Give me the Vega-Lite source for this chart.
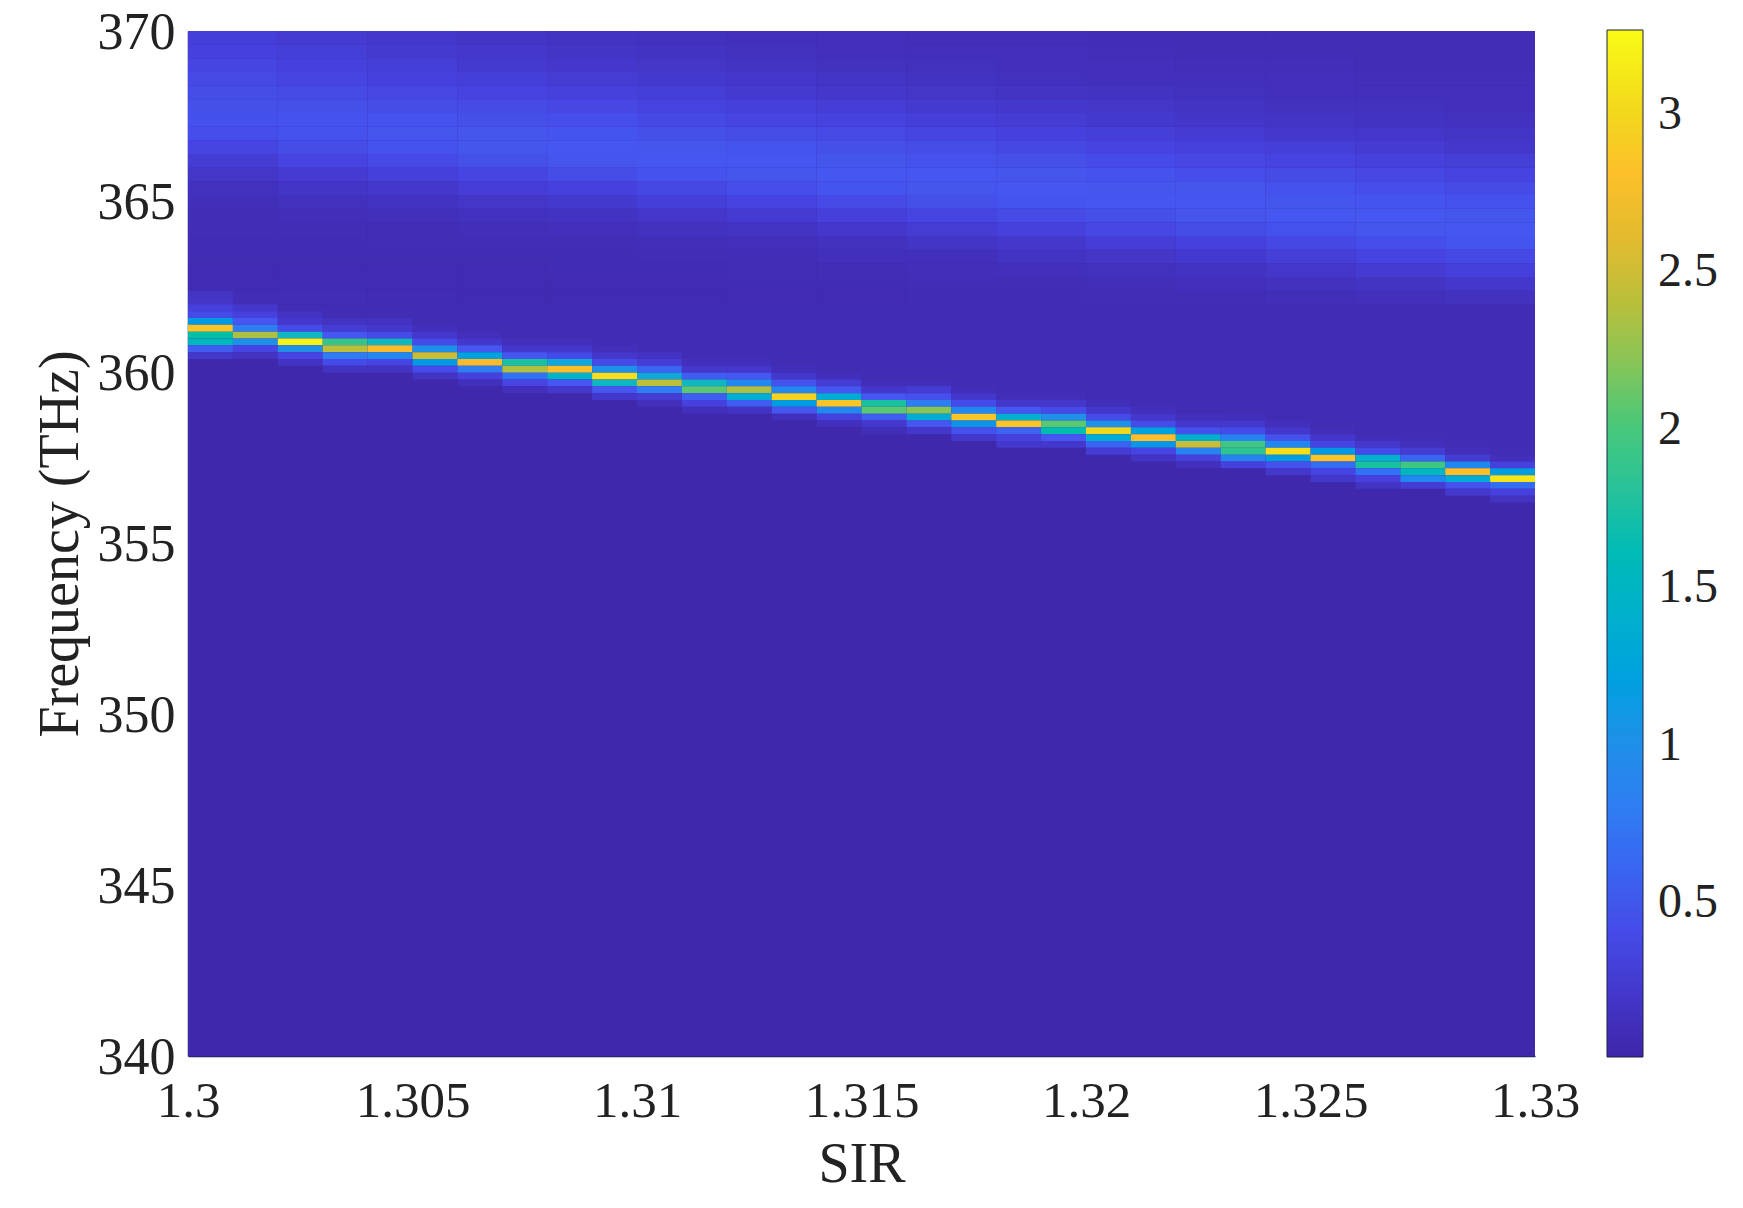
{
"$schema":"https://vega.github.io/schema/vega-lite/v6.json",
"autosize":"none",
"padding":{"left":188,"top":31,"right":208,"bottom":152},
"width":1347,
"height":1025,
"background":"white",
"config":{"view":{"stroke":null}},
"data":{"values":[
{"x":1.3,"x2":1.33,"y":370,"y2":340,"v":0.02},
{"x":1.3,"x2":1.302,"y":370,"y2":369.6,"v":0.28},{"x":1.3,"x2":1.302,"y":369.6,"y2":369.2,"v":0.31},{"x":1.3,"x2":1.302,"y":369.2,"y2":368.8,"v":0.34},{"x":1.3,"x2":1.302,"y":368.8,"y2":368.4,"v":0.38},{"x":1.3,"x2":1.302,"y":368.4,"y2":368,"v":0.41},{"x":1.3,"x2":1.302,"y":368,"y2":367.6,"v":0.44},{"x":1.3,"x2":1.302,"y":367.6,"y2":367.2,"v":0.45},{"x":1.3,"x2":1.302,"y":367.2,"y2":366.8,"v":0.42},{"x":1.3,"x2":1.302,"y":366.8,"y2":366.4,"v":0.34},{"x":1.3,"x2":1.302,"y":366.4,"y2":366,"v":0.25},{"x":1.3,"x2":1.302,"y":366,"y2":365.6,"v":0.18},{"x":1.3,"x2":1.302,"y":365.6,"y2":365.2,"v":0.13},{"x":1.3,"x2":1.302,"y":365.2,"y2":364.8,"v":0.1},{"x":1.3,"x2":1.302,"y":364.8,"y2":364.4,"v":0.09},{"x":1.3,"x2":1.302,"y":364.4,"y2":364,"v":0.08},{"x":1.3,"x2":1.302,"y":364,"y2":363.6,"v":0.07},{"x":1.3,"x2":1.302,"y":363.6,"y2":363.2,"v":0.07},{"x":1.3,"x2":1.302,"y":363.2,"y2":362.8,"v":0.06},{"x":1.3,"x2":1.302,"y":362.8,"y2":362.4,"v":0.06},{"x":1.3,"x2":1.302,"y":362.4,"y2":362,"v":0.08},
{"x":1.302,"x2":1.304,"y":370,"y2":369.6,"v":0.24},{"x":1.302,"x2":1.304,"y":369.6,"y2":369.2,"v":0.27},{"x":1.302,"x2":1.304,"y":369.2,"y2":368.8,"v":0.31},{"x":1.302,"x2":1.304,"y":368.8,"y2":368.4,"v":0.35},{"x":1.302,"x2":1.304,"y":368.4,"y2":368,"v":0.39},{"x":1.302,"x2":1.304,"y":368,"y2":367.6,"v":0.43},{"x":1.302,"x2":1.304,"y":367.6,"y2":367.2,"v":0.46},{"x":1.302,"x2":1.304,"y":367.2,"y2":366.8,"v":0.46},{"x":1.302,"x2":1.304,"y":366.8,"y2":366.4,"v":0.41},{"x":1.302,"x2":1.304,"y":366.4,"y2":366,"v":0.33},{"x":1.302,"x2":1.304,"y":366,"y2":365.6,"v":0.24},{"x":1.302,"x2":1.304,"y":365.6,"y2":365.2,"v":0.17},{"x":1.302,"x2":1.304,"y":365.2,"y2":364.8,"v":0.13},{"x":1.302,"x2":1.304,"y":364.8,"y2":364.4,"v":0.1},{"x":1.302,"x2":1.304,"y":364.4,"y2":364,"v":0.08},{"x":1.302,"x2":1.304,"y":364,"y2":363.6,"v":0.07},{"x":1.302,"x2":1.304,"y":363.6,"y2":363.2,"v":0.07},{"x":1.302,"x2":1.304,"y":363.2,"y2":362.8,"v":0.06},{"x":1.302,"x2":1.304,"y":362.8,"y2":362.4,"v":0.07},{"x":1.302,"x2":1.304,"y":362.4,"y2":362,"v":0.08},
{"x":1.304,"x2":1.306,"y":370,"y2":369.6,"v":0.2},{"x":1.304,"x2":1.306,"y":369.6,"y2":369.2,"v":0.23},{"x":1.304,"x2":1.306,"y":369.2,"y2":368.8,"v":0.27},{"x":1.304,"x2":1.306,"y":368.8,"y2":368.4,"v":0.31},{"x":1.304,"x2":1.306,"y":368.4,"y2":368,"v":0.36},{"x":1.304,"x2":1.306,"y":368,"y2":367.6,"v":0.41},{"x":1.304,"x2":1.306,"y":367.6,"y2":367.2,"v":0.46},{"x":1.304,"x2":1.306,"y":367.2,"y2":366.8,"v":0.48},{"x":1.304,"x2":1.306,"y":366.8,"y2":366.4,"v":0.46},{"x":1.304,"x2":1.306,"y":366.4,"y2":366,"v":0.38},{"x":1.304,"x2":1.306,"y":366,"y2":365.6,"v":0.29},{"x":1.304,"x2":1.306,"y":365.6,"y2":365.2,"v":0.2},{"x":1.304,"x2":1.306,"y":365.2,"y2":364.8,"v":0.15},{"x":1.304,"x2":1.306,"y":364.8,"y2":364.4,"v":0.11},{"x":1.304,"x2":1.306,"y":364.4,"y2":364,"v":0.09},{"x":1.304,"x2":1.306,"y":364,"y2":363.6,"v":0.08},{"x":1.304,"x2":1.306,"y":363.6,"y2":363.2,"v":0.07},{"x":1.304,"x2":1.306,"y":363.2,"y2":362.8,"v":0.06},{"x":1.304,"x2":1.306,"y":362.8,"y2":362.4,"v":0.06},{"x":1.304,"x2":1.306,"y":362.4,"y2":362,"v":0.07},
{"x":1.306,"x2":1.308,"y":370,"y2":369.6,"v":0.17},{"x":1.306,"x2":1.308,"y":369.6,"y2":369.2,"v":0.2},{"x":1.306,"x2":1.308,"y":369.2,"y2":368.8,"v":0.23},{"x":1.306,"x2":1.308,"y":368.8,"y2":368.4,"v":0.28},{"x":1.306,"x2":1.308,"y":368.4,"y2":368,"v":0.33},{"x":1.306,"x2":1.308,"y":368,"y2":367.6,"v":0.39},{"x":1.306,"x2":1.308,"y":367.6,"y2":367.2,"v":0.44},{"x":1.306,"x2":1.308,"y":367.2,"y2":366.8,"v":0.48},{"x":1.306,"x2":1.308,"y":366.8,"y2":366.4,"v":0.49},{"x":1.306,"x2":1.308,"y":366.4,"y2":366,"v":0.44},{"x":1.306,"x2":1.308,"y":366,"y2":365.6,"v":0.35},{"x":1.306,"x2":1.308,"y":365.6,"y2":365.2,"v":0.26},{"x":1.306,"x2":1.308,"y":365.2,"y2":364.8,"v":0.18},{"x":1.306,"x2":1.308,"y":364.8,"y2":364.4,"v":0.13},{"x":1.306,"x2":1.308,"y":364.4,"y2":364,"v":0.1},{"x":1.306,"x2":1.308,"y":364,"y2":363.6,"v":0.08},{"x":1.306,"x2":1.308,"y":363.6,"y2":363.2,"v":0.07},{"x":1.306,"x2":1.308,"y":363.2,"y2":362.8,"v":0.06},{"x":1.306,"x2":1.308,"y":362.8,"y2":362.4,"v":0.06},{"x":1.306,"x2":1.308,"y":362.4,"y2":362,"v":0.06},
{"x":1.308,"x2":1.31,"y":370,"y2":369.6,"v":0.15},{"x":1.308,"x2":1.31,"y":369.6,"y2":369.2,"v":0.17},{"x":1.308,"x2":1.31,"y":369.2,"y2":368.8,"v":0.2},{"x":1.308,"x2":1.31,"y":368.8,"y2":368.4,"v":0.25},{"x":1.308,"x2":1.31,"y":368.4,"y2":368,"v":0.3},{"x":1.308,"x2":1.31,"y":368,"y2":367.6,"v":0.36},{"x":1.308,"x2":1.31,"y":367.6,"y2":367.2,"v":0.42},{"x":1.308,"x2":1.31,"y":367.2,"y2":366.8,"v":0.47},{"x":1.308,"x2":1.31,"y":366.8,"y2":366.4,"v":0.5},{"x":1.308,"x2":1.31,"y":366.4,"y2":366,"v":0.48},{"x":1.308,"x2":1.31,"y":366,"y2":365.6,"v":0.41},{"x":1.308,"x2":1.31,"y":365.6,"y2":365.2,"v":0.31},{"x":1.308,"x2":1.31,"y":365.2,"y2":364.8,"v":0.22},{"x":1.308,"x2":1.31,"y":364.8,"y2":364.4,"v":0.15},{"x":1.308,"x2":1.31,"y":364.4,"y2":364,"v":0.11},{"x":1.308,"x2":1.31,"y":364,"y2":363.6,"v":0.09},{"x":1.308,"x2":1.31,"y":363.6,"y2":363.2,"v":0.07},{"x":1.308,"x2":1.31,"y":363.2,"y2":362.8,"v":0.07},{"x":1.308,"x2":1.31,"y":362.8,"y2":362.4,"v":0.06},{"x":1.308,"x2":1.31,"y":362.4,"y2":362,"v":0.06},
{"x":1.31,"x2":1.312,"y":370,"y2":369.6,"v":0.13},{"x":1.31,"x2":1.312,"y":369.6,"y2":369.2,"v":0.15},{"x":1.31,"x2":1.312,"y":369.2,"y2":368.8,"v":0.18},{"x":1.31,"x2":1.312,"y":368.8,"y2":368.4,"v":0.22},{"x":1.31,"x2":1.312,"y":368.4,"y2":368,"v":0.27},{"x":1.31,"x2":1.312,"y":368,"y2":367.6,"v":0.32},{"x":1.31,"x2":1.312,"y":367.6,"y2":367.2,"v":0.38},{"x":1.31,"x2":1.312,"y":367.2,"y2":366.8,"v":0.44},{"x":1.31,"x2":1.312,"y":366.8,"y2":366.4,"v":0.49},{"x":1.31,"x2":1.312,"y":366.4,"y2":366,"v":0.5},{"x":1.31,"x2":1.312,"y":366,"y2":365.6,"v":0.46},{"x":1.31,"x2":1.312,"y":365.6,"y2":365.2,"v":0.37},{"x":1.31,"x2":1.312,"y":365.2,"y2":364.8,"v":0.27},{"x":1.31,"x2":1.312,"y":364.8,"y2":364.4,"v":0.19},{"x":1.31,"x2":1.312,"y":364.4,"y2":364,"v":0.14},{"x":1.31,"x2":1.312,"y":364,"y2":363.6,"v":0.1},{"x":1.31,"x2":1.312,"y":363.6,"y2":363.2,"v":0.08},{"x":1.31,"x2":1.312,"y":363.2,"y2":362.8,"v":0.07},{"x":1.31,"x2":1.312,"y":362.8,"y2":362.4,"v":0.06},{"x":1.31,"x2":1.312,"y":362.4,"y2":362,"v":0.06},
{"x":1.312,"x2":1.314,"y":370,"y2":369.6,"v":0.12},{"x":1.312,"x2":1.314,"y":369.6,"y2":369.2,"v":0.14},{"x":1.312,"x2":1.314,"y":369.2,"y2":368.8,"v":0.16},{"x":1.312,"x2":1.314,"y":368.8,"y2":368.4,"v":0.19},{"x":1.312,"x2":1.314,"y":368.4,"y2":368,"v":0.23},{"x":1.312,"x2":1.314,"y":368,"y2":367.6,"v":0.29},{"x":1.312,"x2":1.314,"y":367.6,"y2":367.2,"v":0.35},{"x":1.312,"x2":1.314,"y":367.2,"y2":366.8,"v":0.41},{"x":1.312,"x2":1.314,"y":366.8,"y2":366.4,"v":0.47},{"x":1.312,"x2":1.314,"y":366.4,"y2":366,"v":0.5},{"x":1.312,"x2":1.314,"y":366,"y2":365.6,"v":0.49},{"x":1.312,"x2":1.314,"y":365.6,"y2":365.2,"v":0.42},{"x":1.312,"x2":1.314,"y":365.2,"y2":364.8,"v":0.33},{"x":1.312,"x2":1.314,"y":364.8,"y2":364.4,"v":0.24},{"x":1.312,"x2":1.314,"y":364.4,"y2":364,"v":0.16},{"x":1.312,"x2":1.314,"y":364,"y2":363.6,"v":0.12},{"x":1.312,"x2":1.314,"y":363.6,"y2":363.2,"v":0.09},{"x":1.312,"x2":1.314,"y":363.2,"y2":362.8,"v":0.08},{"x":1.312,"x2":1.314,"y":362.8,"y2":362.4,"v":0.07},{"x":1.312,"x2":1.314,"y":362.4,"y2":362,"v":0.06},
{"x":1.314,"x2":1.316,"y":370,"y2":369.6,"v":0.11},{"x":1.314,"x2":1.316,"y":369.6,"y2":369.2,"v":0.12},{"x":1.314,"x2":1.316,"y":369.2,"y2":368.8,"v":0.14},{"x":1.314,"x2":1.316,"y":368.8,"y2":368.4,"v":0.17},{"x":1.314,"x2":1.316,"y":368.4,"y2":368,"v":0.21},{"x":1.314,"x2":1.316,"y":368,"y2":367.6,"v":0.26},{"x":1.314,"x2":1.316,"y":367.6,"y2":367.2,"v":0.32},{"x":1.314,"x2":1.316,"y":367.2,"y2":366.8,"v":0.38},{"x":1.314,"x2":1.316,"y":366.8,"y2":366.4,"v":0.44},{"x":1.314,"x2":1.316,"y":366.4,"y2":366,"v":0.49},{"x":1.314,"x2":1.316,"y":366,"y2":365.6,"v":0.5},{"x":1.314,"x2":1.316,"y":365.6,"y2":365.2,"v":0.47},{"x":1.314,"x2":1.316,"y":365.2,"y2":364.8,"v":0.38},{"x":1.314,"x2":1.316,"y":364.8,"y2":364.4,"v":0.29},{"x":1.314,"x2":1.316,"y":364.4,"y2":364,"v":0.2},{"x":1.314,"x2":1.316,"y":364,"y2":363.6,"v":0.14},{"x":1.314,"x2":1.316,"y":363.6,"y2":363.2,"v":0.11},{"x":1.314,"x2":1.316,"y":363.2,"y2":362.8,"v":0.09},{"x":1.314,"x2":1.316,"y":362.8,"y2":362.4,"v":0.07},{"x":1.314,"x2":1.316,"y":362.4,"y2":362,"v":0.06},
{"x":1.316,"x2":1.318,"y":370,"y2":369.6,"v":0.1},{"x":1.316,"x2":1.318,"y":369.6,"y2":369.2,"v":0.11},{"x":1.316,"x2":1.318,"y":369.2,"y2":368.8,"v":0.13},{"x":1.316,"x2":1.318,"y":368.8,"y2":368.4,"v":0.15},{"x":1.316,"x2":1.318,"y":368.4,"y2":368,"v":0.18},{"x":1.316,"x2":1.318,"y":368,"y2":367.6,"v":0.23},{"x":1.316,"x2":1.318,"y":367.6,"y2":367.2,"v":0.28},{"x":1.316,"x2":1.318,"y":367.2,"y2":366.8,"v":0.34},{"x":1.316,"x2":1.318,"y":366.8,"y2":366.4,"v":0.41},{"x":1.316,"x2":1.318,"y":366.4,"y2":366,"v":0.46},{"x":1.316,"x2":1.318,"y":366,"y2":365.6,"v":0.5},{"x":1.316,"x2":1.318,"y":365.6,"y2":365.2,"v":0.49},{"x":1.316,"x2":1.318,"y":365.2,"y2":364.8,"v":0.43},{"x":1.316,"x2":1.318,"y":364.8,"y2":364.4,"v":0.34},{"x":1.316,"x2":1.318,"y":364.4,"y2":364,"v":0.25},{"x":1.316,"x2":1.318,"y":364,"y2":363.6,"v":0.17},{"x":1.316,"x2":1.318,"y":363.6,"y2":363.2,"v":0.12},{"x":1.316,"x2":1.318,"y":363.2,"y2":362.8,"v":0.1},{"x":1.316,"x2":1.318,"y":362.8,"y2":362.4,"v":0.08},{"x":1.316,"x2":1.318,"y":362.4,"y2":362,"v":0.07},
{"x":1.318,"x2":1.32,"y":370,"y2":369.6,"v":0.1},{"x":1.318,"x2":1.32,"y":369.6,"y2":369.2,"v":0.11},{"x":1.318,"x2":1.32,"y":369.2,"y2":368.8,"v":0.12},{"x":1.318,"x2":1.32,"y":368.8,"y2":368.4,"v":0.13},{"x":1.318,"x2":1.32,"y":368.4,"y2":368,"v":0.16},{"x":1.318,"x2":1.32,"y":368,"y2":367.6,"v":0.2},{"x":1.318,"x2":1.32,"y":367.6,"y2":367.2,"v":0.25},{"x":1.318,"x2":1.32,"y":367.2,"y2":366.8,"v":0.31},{"x":1.318,"x2":1.32,"y":366.8,"y2":366.4,"v":0.37},{"x":1.318,"x2":1.32,"y":366.4,"y2":366,"v":0.43},{"x":1.318,"x2":1.32,"y":366,"y2":365.6,"v":0.48},{"x":1.318,"x2":1.32,"y":365.6,"y2":365.2,"v":0.5},{"x":1.318,"x2":1.32,"y":365.2,"y2":364.8,"v":0.47},{"x":1.318,"x2":1.32,"y":364.8,"y2":364.4,"v":0.39},{"x":1.318,"x2":1.32,"y":364.4,"y2":364,"v":0.3},{"x":1.318,"x2":1.32,"y":364,"y2":363.6,"v":0.21},{"x":1.318,"x2":1.32,"y":363.6,"y2":363.2,"v":0.15},{"x":1.318,"x2":1.32,"y":363.2,"y2":362.8,"v":0.11},{"x":1.318,"x2":1.32,"y":362.8,"y2":362.4,"v":0.09},{"x":1.318,"x2":1.32,"y":362.4,"y2":362,"v":0.07},
{"x":1.32,"x2":1.322,"y":370,"y2":369.6,"v":0.09},{"x":1.32,"x2":1.322,"y":369.6,"y2":369.2,"v":0.1},{"x":1.32,"x2":1.322,"y":369.2,"y2":368.8,"v":0.11},{"x":1.32,"x2":1.322,"y":368.8,"y2":368.4,"v":0.12},{"x":1.32,"x2":1.322,"y":368.4,"y2":368,"v":0.15},{"x":1.32,"x2":1.322,"y":368,"y2":367.6,"v":0.18},{"x":1.32,"x2":1.322,"y":367.6,"y2":367.2,"v":0.22},{"x":1.32,"x2":1.322,"y":367.2,"y2":366.8,"v":0.27},{"x":1.32,"x2":1.322,"y":366.8,"y2":366.4,"v":0.33},{"x":1.32,"x2":1.322,"y":366.4,"y2":366,"v":0.4},{"x":1.32,"x2":1.322,"y":366,"y2":365.6,"v":0.46},{"x":1.32,"x2":1.322,"y":365.6,"y2":365.2,"v":0.49},{"x":1.32,"x2":1.322,"y":365.2,"y2":364.8,"v":0.5},{"x":1.32,"x2":1.322,"y":364.8,"y2":364.4,"v":0.44},{"x":1.32,"x2":1.322,"y":364.4,"y2":364,"v":0.36},{"x":1.32,"x2":1.322,"y":364,"y2":363.6,"v":0.26},{"x":1.32,"x2":1.322,"y":363.6,"y2":363.2,"v":0.18},{"x":1.32,"x2":1.322,"y":363.2,"y2":362.8,"v":0.13},{"x":1.32,"x2":1.322,"y":362.8,"y2":362.4,"v":0.1},{"x":1.32,"x2":1.322,"y":362.4,"y2":362,"v":0.08},
{"x":1.322,"x2":1.324,"y":370,"y2":369.6,"v":0.09},{"x":1.322,"x2":1.324,"y":369.6,"y2":369.2,"v":0.09},{"x":1.322,"x2":1.324,"y":369.2,"y2":368.8,"v":0.1},{"x":1.322,"x2":1.324,"y":368.8,"y2":368.4,"v":0.12},{"x":1.322,"x2":1.324,"y":368.4,"y2":368,"v":0.13},{"x":1.322,"x2":1.324,"y":368,"y2":367.6,"v":0.16},{"x":1.322,"x2":1.324,"y":367.6,"y2":367.2,"v":0.19},{"x":1.322,"x2":1.324,"y":367.2,"y2":366.8,"v":0.24},{"x":1.322,"x2":1.324,"y":366.8,"y2":366.4,"v":0.3},{"x":1.322,"x2":1.324,"y":366.4,"y2":366,"v":0.36},{"x":1.322,"x2":1.324,"y":366,"y2":365.6,"v":0.42},{"x":1.322,"x2":1.324,"y":365.6,"y2":365.2,"v":0.48},{"x":1.322,"x2":1.324,"y":365.2,"y2":364.8,"v":0.5},{"x":1.322,"x2":1.324,"y":364.8,"y2":364.4,"v":0.48},{"x":1.322,"x2":1.324,"y":364.4,"y2":364,"v":0.41},{"x":1.322,"x2":1.324,"y":364,"y2":363.6,"v":0.31},{"x":1.322,"x2":1.324,"y":363.6,"y2":363.2,"v":0.22},{"x":1.322,"x2":1.324,"y":363.2,"y2":362.8,"v":0.15},{"x":1.322,"x2":1.324,"y":362.8,"y2":362.4,"v":0.11},{"x":1.322,"x2":1.324,"y":362.4,"y2":362,"v":0.09},
{"x":1.324,"x2":1.326,"y":370,"y2":369.6,"v":0.08},{"x":1.324,"x2":1.326,"y":369.6,"y2":369.2,"v":0.09},{"x":1.324,"x2":1.326,"y":369.2,"y2":368.8,"v":0.1},{"x":1.324,"x2":1.326,"y":368.8,"y2":368.4,"v":0.11},{"x":1.324,"x2":1.326,"y":368.4,"y2":368,"v":0.12},{"x":1.324,"x2":1.326,"y":368,"y2":367.6,"v":0.14},{"x":1.324,"x2":1.326,"y":367.6,"y2":367.2,"v":0.17},{"x":1.324,"x2":1.326,"y":367.2,"y2":366.8,"v":0.21},{"x":1.324,"x2":1.326,"y":366.8,"y2":366.4,"v":0.27},{"x":1.324,"x2":1.326,"y":366.4,"y2":366,"v":0.33},{"x":1.324,"x2":1.326,"y":366,"y2":365.6,"v":0.39},{"x":1.324,"x2":1.326,"y":365.6,"y2":365.2,"v":0.45},{"x":1.324,"x2":1.326,"y":365.2,"y2":364.8,"v":0.49},{"x":1.324,"x2":1.326,"y":364.8,"y2":364.4,"v":0.5},{"x":1.324,"x2":1.326,"y":364.4,"y2":364,"v":0.45},{"x":1.324,"x2":1.326,"y":364,"y2":363.6,"v":0.37},{"x":1.324,"x2":1.326,"y":363.6,"y2":363.2,"v":0.27},{"x":1.324,"x2":1.326,"y":363.2,"y2":362.8,"v":0.19},{"x":1.324,"x2":1.326,"y":362.8,"y2":362.4,"v":0.14},{"x":1.324,"x2":1.326,"y":362.4,"y2":362,"v":0.1},
{"x":1.326,"x2":1.328,"y":370,"y2":369.6,"v":0.08},{"x":1.326,"x2":1.328,"y":369.6,"y2":369.2,"v":0.09},{"x":1.326,"x2":1.328,"y":369.2,"y2":368.8,"v":0.09},{"x":1.326,"x2":1.328,"y":368.8,"y2":368.4,"v":0.1},{"x":1.326,"x2":1.328,"y":368.4,"y2":368,"v":0.11},{"x":1.326,"x2":1.328,"y":368,"y2":367.6,"v":0.13},{"x":1.326,"x2":1.328,"y":367.6,"y2":367.2,"v":0.15},{"x":1.326,"x2":1.328,"y":367.2,"y2":366.8,"v":0.19},{"x":1.326,"x2":1.328,"y":366.8,"y2":366.4,"v":0.24},{"x":1.326,"x2":1.328,"y":366.4,"y2":366,"v":0.3},{"x":1.326,"x2":1.328,"y":366,"y2":365.6,"v":0.36},{"x":1.326,"x2":1.328,"y":365.6,"y2":365.2,"v":0.42},{"x":1.326,"x2":1.328,"y":365.2,"y2":364.8,"v":0.47},{"x":1.326,"x2":1.328,"y":364.8,"y2":364.4,"v":0.5},{"x":1.326,"x2":1.328,"y":364.4,"y2":364,"v":0.49},{"x":1.326,"x2":1.328,"y":364,"y2":363.6,"v":0.42},{"x":1.326,"x2":1.328,"y":363.6,"y2":363.2,"v":0.33},{"x":1.326,"x2":1.328,"y":363.2,"y2":362.8,"v":0.24},{"x":1.326,"x2":1.328,"y":362.8,"y2":362.4,"v":0.16},{"x":1.326,"x2":1.328,"y":362.4,"y2":362,"v":0.12},
{"x":1.328,"x2":1.33,"y":370,"y2":369.6,"v":0.08},{"x":1.328,"x2":1.33,"y":369.6,"y2":369.2,"v":0.08},{"x":1.328,"x2":1.33,"y":369.2,"y2":368.8,"v":0.09},{"x":1.328,"x2":1.33,"y":368.8,"y2":368.4,"v":0.1},{"x":1.328,"x2":1.33,"y":368.4,"y2":368,"v":0.11},{"x":1.328,"x2":1.33,"y":368,"y2":367.6,"v":0.12},{"x":1.328,"x2":1.33,"y":367.6,"y2":367.2,"v":0.14},{"x":1.328,"x2":1.33,"y":367.2,"y2":366.8,"v":0.17},{"x":1.328,"x2":1.33,"y":366.8,"y2":366.4,"v":0.21},{"x":1.328,"x2":1.33,"y":366.4,"y2":366,"v":0.27},{"x":1.328,"x2":1.33,"y":366,"y2":365.6,"v":0.33},{"x":1.328,"x2":1.33,"y":365.6,"y2":365.2,"v":0.39},{"x":1.328,"x2":1.33,"y":365.2,"y2":364.8,"v":0.45},{"x":1.328,"x2":1.33,"y":364.8,"y2":364.4,"v":0.49},{"x":1.328,"x2":1.33,"y":364.4,"y2":364,"v":0.5},{"x":1.328,"x2":1.33,"y":364,"y2":363.6,"v":0.47},{"x":1.328,"x2":1.33,"y":363.6,"y2":363.2,"v":0.38},{"x":1.328,"x2":1.33,"y":363.2,"y2":362.8,"v":0.29},{"x":1.328,"x2":1.33,"y":362.8,"y2":362.4,"v":0.2},{"x":1.328,"x2":1.33,"y":362.4,"y2":362,"v":0.14},
{"x":1.3,"x2":1.302,"y":362,"y2":361.4,"v":0.08},{"x":1.302,"x2":1.304,"y":362,"y2":361,"v":0.07},{"x":1.304,"x2":1.306,"y":362,"y2":360.6,"v":0.07},{"x":1.306,"x2":1.308,"y":362,"y2":360.2,"v":0.07},{"x":1.308,"x2":1.31,"y":362,"y2":359.8,"v":0.07},{"x":1.31,"x2":1.312,"y":362,"y2":359.4,"v":0.07},{"x":1.312,"x2":1.314,"y":362,"y2":359,"v":0.07},{"x":1.314,"x2":1.316,"y":362,"y2":358.8,"v":0.07},{"x":1.316,"x2":1.318,"y":362,"y2":358.4,"v":0.07},{"x":1.318,"x2":1.32,"y":362,"y2":358,"v":0.07},{"x":1.32,"x2":1.322,"y":362,"y2":357.8,"v":0.07},{"x":1.322,"x2":1.324,"y":362,"y2":357.4,"v":0.07},{"x":1.324,"x2":1.326,"y":362,"y2":357.2,"v":0.07},{"x":1.326,"x2":1.328,"y":362,"y2":357,"v":0.07},{"x":1.328,"x2":1.33,"y":362,"y2":356.8,"v":0.07},
{"x":1.3,"x2":1.301,"y":362.4,"y2":362.2,"v":0.16},{"x":1.3,"x2":1.301,"y":362.2,"y2":362,"v":0.18},{"x":1.3,"x2":1.301,"y":362,"y2":361.8,"v":0.3},{"x":1.3,"x2":1.301,"y":361.8,"y2":361.6,"v":0.4},{"x":1.3,"x2":1.301,"y":361.6,"y2":361.4,"v":1.1},{"x":1.3,"x2":1.301,"y":361.4,"y2":361.2,"v":2.85},{"x":1.3,"x2":1.301,"y":361.2,"y2":361,"v":1.7},{"x":1.3,"x2":1.301,"y":361,"y2":360.8,"v":1.55},{"x":1.3,"x2":1.301,"y":360.8,"y2":360.6,"v":0.55},{"x":1.3,"x2":1.301,"y":360.6,"y2":360.4,"v":0.2},
{"x":1.301,"x2":1.302,"y":362,"y2":361.8,"v":0.2},{"x":1.301,"x2":1.302,"y":361.8,"y2":361.6,"v":0.3},{"x":1.301,"x2":1.302,"y":361.6,"y2":361.4,"v":0.5},{"x":1.301,"x2":1.302,"y":361.4,"y2":361.2,"v":0.8},{"x":1.301,"x2":1.302,"y":361.2,"y2":361,"v":2.35},{"x":1.301,"x2":1.302,"y":361,"y2":360.8,"v":1},{"x":1.301,"x2":1.302,"y":360.8,"y2":360.6,"v":0.35},{"x":1.301,"x2":1.302,"y":360.6,"y2":360.4,"v":0.15},
{"x":1.302,"x2":1.303,"y":361.8,"y2":361.6,"v":0.15},{"x":1.302,"x2":1.303,"y":361.6,"y2":361.4,"v":0.2},{"x":1.302,"x2":1.303,"y":361.4,"y2":361.2,"v":0.4},{"x":1.302,"x2":1.303,"y":361.2,"y2":361,"v":1.5},{"x":1.302,"x2":1.303,"y":361,"y2":360.8,"v":3.2},{"x":1.302,"x2":1.303,"y":360.8,"y2":360.6,"v":1},{"x":1.302,"x2":1.303,"y":360.6,"y2":360.4,"v":0.35},{"x":1.302,"x2":1.303,"y":360.4,"y2":360.2,"v":0.15},
{"x":1.303,"x2":1.304,"y":361.6,"y2":361.4,"v":0.15},{"x":1.303,"x2":1.304,"y":361.4,"y2":361.2,"v":0.25},{"x":1.303,"x2":1.304,"y":361.2,"y2":361,"v":0.5},{"x":1.303,"x2":1.304,"y":361,"y2":360.8,"v":1.9},{"x":1.303,"x2":1.304,"y":360.8,"y2":360.6,"v":2.4},{"x":1.303,"x2":1.304,"y":360.6,"y2":360.4,"v":0.8},{"x":1.303,"x2":1.304,"y":360.4,"y2":360.2,"v":0.4},{"x":1.303,"x2":1.304,"y":360.2,"y2":360,"v":0.15},
{"x":1.304,"x2":1.305,"y":361.6,"y2":361.4,"v":0.15},{"x":1.304,"x2":1.305,"y":361.4,"y2":361.2,"v":0.2},{"x":1.304,"x2":1.305,"y":361.2,"y2":361,"v":0.4},{"x":1.304,"x2":1.305,"y":361,"y2":360.8,"v":1.5},{"x":1.304,"x2":1.305,"y":360.8,"y2":360.6,"v":2.75},{"x":1.304,"x2":1.305,"y":360.6,"y2":360.4,"v":0.9},{"x":1.304,"x2":1.305,"y":360.4,"y2":360.2,"v":0.35},{"x":1.304,"x2":1.305,"y":360.2,"y2":360,"v":0.15},
{"x":1.305,"x2":1.306,"y":361.4,"y2":361.2,"v":0.12},{"x":1.305,"x2":1.306,"y":361.2,"y2":361,"v":0.2},{"x":1.305,"x2":1.306,"y":361,"y2":360.8,"v":0.4},{"x":1.305,"x2":1.306,"y":360.8,"y2":360.6,"v":1},{"x":1.305,"x2":1.306,"y":360.6,"y2":360.4,"v":2.45},{"x":1.305,"x2":1.306,"y":360.4,"y2":360.2,"v":1.1},{"x":1.305,"x2":1.306,"y":360.2,"y2":360,"v":0.4},{"x":1.305,"x2":1.306,"y":360,"y2":359.8,"v":0.15},
{"x":1.306,"x2":1.307,"y":361.2,"y2":361,"v":0.12},{"x":1.306,"x2":1.307,"y":361,"y2":360.8,"v":0.2},{"x":1.306,"x2":1.307,"y":360.8,"y2":360.6,"v":0.5},{"x":1.306,"x2":1.307,"y":360.6,"y2":360.4,"v":1.2},{"x":1.306,"x2":1.307,"y":360.4,"y2":360.2,"v":2.75},{"x":1.306,"x2":1.307,"y":360.2,"y2":360,"v":0.8},{"x":1.306,"x2":1.307,"y":360,"y2":359.8,"v":0.3},{"x":1.306,"x2":1.307,"y":359.8,"y2":359.6,"v":0.12},
{"x":1.307,"x2":1.308,"y":361,"y2":360.8,"v":0.12},{"x":1.307,"x2":1.308,"y":360.8,"y2":360.6,"v":0.2},{"x":1.307,"x2":1.308,"y":360.6,"y2":360.4,"v":0.5},{"x":1.307,"x2":1.308,"y":360.4,"y2":360.2,"v":1.75},{"x":1.307,"x2":1.308,"y":360.2,"y2":360,"v":2.35},{"x":1.307,"x2":1.308,"y":360,"y2":359.8,"v":0.7},{"x":1.307,"x2":1.308,"y":359.8,"y2":359.6,"v":0.35},{"x":1.307,"x2":1.308,"y":359.6,"y2":359.4,"v":0.12},
{"x":1.308,"x2":1.309,"y":361,"y2":360.8,"v":0.12},{"x":1.308,"x2":1.309,"y":360.8,"y2":360.6,"v":0.2},{"x":1.308,"x2":1.309,"y":360.6,"y2":360.4,"v":0.4},{"x":1.308,"x2":1.309,"y":360.4,"y2":360.2,"v":1.3},{"x":1.308,"x2":1.309,"y":360.2,"y2":360,"v":2.8},{"x":1.308,"x2":1.309,"y":360,"y2":359.8,"v":1.45},{"x":1.308,"x2":1.309,"y":359.8,"y2":359.6,"v":0.5},{"x":1.308,"x2":1.309,"y":359.6,"y2":359.4,"v":0.2},
{"x":1.309,"x2":1.31,"y":360.8,"y2":360.6,"v":0.12},{"x":1.309,"x2":1.31,"y":360.6,"y2":360.4,"v":0.2},{"x":1.309,"x2":1.31,"y":360.4,"y2":360.2,"v":0.4},{"x":1.309,"x2":1.31,"y":360.2,"y2":360,"v":1},{"x":1.309,"x2":1.31,"y":360,"y2":359.8,"v":3.05},{"x":1.309,"x2":1.31,"y":359.8,"y2":359.6,"v":1.5},{"x":1.309,"x2":1.31,"y":359.6,"y2":359.4,"v":0.5},{"x":1.309,"x2":1.31,"y":359.4,"y2":359.2,"v":0.2},
{"x":1.31,"x2":1.311,"y":360.6,"y2":360.4,"v":0.15},{"x":1.31,"x2":1.311,"y":360.4,"y2":360.2,"v":0.25},{"x":1.31,"x2":1.311,"y":360.2,"y2":360,"v":0.6},{"x":1.31,"x2":1.311,"y":360,"y2":359.8,"v":1.3},{"x":1.31,"x2":1.311,"y":359.8,"y2":359.6,"v":2.4},{"x":1.31,"x2":1.311,"y":359.6,"y2":359.4,"v":0.8},{"x":1.31,"x2":1.311,"y":359.4,"y2":359.2,"v":0.25},{"x":1.31,"x2":1.311,"y":359.2,"y2":359,"v":0.12},
{"x":1.311,"x2":1.312,"y":360.4,"y2":360.2,"v":0.12},{"x":1.311,"x2":1.312,"y":360.2,"y2":360,"v":0.2},{"x":1.311,"x2":1.312,"y":360,"y2":359.8,"v":0.55},{"x":1.311,"x2":1.312,"y":359.8,"y2":359.6,"v":1.5},{"x":1.311,"x2":1.312,"y":359.6,"y2":359.4,"v":2.05},{"x":1.311,"x2":1.312,"y":359.4,"y2":359.2,"v":0.55},{"x":1.311,"x2":1.312,"y":359.2,"y2":359,"v":0.3},{"x":1.311,"x2":1.312,"y":359,"y2":358.8,"v":0.12},
{"x":1.312,"x2":1.313,"y":360.4,"y2":360.2,"v":0.12},{"x":1.312,"x2":1.313,"y":360.2,"y2":360,"v":0.2},{"x":1.312,"x2":1.313,"y":360,"y2":359.8,"v":0.5},{"x":1.312,"x2":1.313,"y":359.8,"y2":359.6,"v":0.9},{"x":1.312,"x2":1.313,"y":359.6,"y2":359.4,"v":2.35},{"x":1.312,"x2":1.313,"y":359.4,"y2":359.2,"v":1.35},{"x":1.312,"x2":1.313,"y":359.2,"y2":359,"v":0.55},{"x":1.312,"x2":1.313,"y":359,"y2":358.8,"v":0.15},
{"x":1.313,"x2":1.314,"y":360.2,"y2":360,"v":0.1},{"x":1.313,"x2":1.314,"y":360,"y2":359.8,"v":0.2},{"x":1.313,"x2":1.314,"y":359.8,"y2":359.6,"v":0.45},{"x":1.313,"x2":1.314,"y":359.6,"y2":359.4,"v":0.9},{"x":1.313,"x2":1.314,"y":359.4,"y2":359.2,"v":2.95},{"x":1.313,"x2":1.314,"y":359.2,"y2":359,"v":1.15},{"x":1.313,"x2":1.314,"y":359,"y2":358.8,"v":0.5},{"x":1.313,"x2":1.314,"y":358.8,"y2":358.6,"v":0.12},
{"x":1.314,"x2":1.315,"y":360,"y2":359.8,"v":0.12},{"x":1.314,"x2":1.315,"y":359.8,"y2":359.6,"v":0.25},{"x":1.314,"x2":1.315,"y":359.6,"y2":359.4,"v":0.5},{"x":1.314,"x2":1.315,"y":359.4,"y2":359.2,"v":1.35},{"x":1.314,"x2":1.315,"y":359.2,"y2":359,"v":2.85},{"x":1.314,"x2":1.315,"y":359,"y2":358.8,"v":0.9},{"x":1.314,"x2":1.315,"y":358.8,"y2":358.6,"v":0.3},{"x":1.314,"x2":1.315,"y":358.6,"y2":358.4,"v":0.12},
{"x":1.315,"x2":1.316,"y":359.8,"y2":359.6,"v":0.1},{"x":1.315,"x2":1.316,"y":359.6,"y2":359.4,"v":0.2},{"x":1.315,"x2":1.316,"y":359.4,"y2":359.2,"v":0.5},{"x":1.315,"x2":1.316,"y":359.2,"y2":359,"v":1.75},{"x":1.315,"x2":1.316,"y":359,"y2":358.8,"v":2.05},{"x":1.315,"x2":1.316,"y":358.8,"y2":358.6,"v":0.55},{"x":1.315,"x2":1.316,"y":358.6,"y2":358.4,"v":0.2},{"x":1.315,"x2":1.316,"y":358.4,"y2":358.2,"v":0.1},
{"x":1.316,"x2":1.317,"y":359.8,"y2":359.6,"v":0.1},{"x":1.316,"x2":1.317,"y":359.6,"y2":359.4,"v":0.25},{"x":1.316,"x2":1.317,"y":359.4,"y2":359.2,"v":0.45},{"x":1.316,"x2":1.317,"y":359.2,"y2":359,"v":0.8},{"x":1.316,"x2":1.317,"y":359,"y2":358.8,"v":2.2},{"x":1.316,"x2":1.317,"y":358.8,"y2":358.6,"v":1.35},{"x":1.316,"x2":1.317,"y":358.6,"y2":358.4,"v":0.5},{"x":1.316,"x2":1.317,"y":358.4,"y2":358.2,"v":0.2},
{"x":1.317,"x2":1.318,"y":359.6,"y2":359.4,"v":0.1},{"x":1.317,"x2":1.318,"y":359.4,"y2":359.2,"v":0.2},{"x":1.317,"x2":1.318,"y":359.2,"y2":359,"v":0.4},{"x":1.317,"x2":1.318,"y":359,"y2":358.8,"v":0.9},{"x":1.317,"x2":1.318,"y":358.8,"y2":358.6,"v":2.85},{"x":1.317,"x2":1.318,"y":358.6,"y2":358.4,"v":1.05},{"x":1.317,"x2":1.318,"y":358.4,"y2":358.2,"v":0.45},{"x":1.317,"x2":1.318,"y":358.2,"y2":358,"v":0.2},
{"x":1.318,"x2":1.319,"y":359.4,"y2":359.2,"v":0.1},{"x":1.318,"x2":1.319,"y":359.2,"y2":359,"v":0.2},{"x":1.318,"x2":1.319,"y":359,"y2":358.8,"v":0.5},{"x":1.318,"x2":1.319,"y":358.8,"y2":358.6,"v":1.4},{"x":1.318,"x2":1.319,"y":358.6,"y2":358.4,"v":2.85},{"x":1.318,"x2":1.319,"y":358.4,"y2":358.2,"v":0.6},{"x":1.318,"x2":1.319,"y":358.2,"y2":358,"v":0.3},{"x":1.318,"x2":1.319,"y":358,"y2":357.8,"v":0.2},
{"x":1.319,"x2":1.32,"y":359.4,"y2":359.2,"v":0.1},{"x":1.319,"x2":1.32,"y":359.2,"y2":359,"v":0.2},{"x":1.319,"x2":1.32,"y":359,"y2":358.8,"v":0.4},{"x":1.319,"x2":1.32,"y":358.8,"y2":358.6,"v":1},{"x":1.319,"x2":1.32,"y":358.6,"y2":358.4,"v":2.05},{"x":1.319,"x2":1.32,"y":358.4,"y2":358.2,"v":1.65},{"x":1.319,"x2":1.32,"y":358.2,"y2":358,"v":0.5},{"x":1.319,"x2":1.32,"y":358,"y2":357.8,"v":0.2},
{"x":1.32,"x2":1.321,"y":359.2,"y2":359,"v":0.1},{"x":1.32,"x2":1.321,"y":359,"y2":358.8,"v":0.2},{"x":1.32,"x2":1.321,"y":358.8,"y2":358.6,"v":0.4},{"x":1.32,"x2":1.321,"y":358.6,"y2":358.4,"v":1},{"x":1.32,"x2":1.321,"y":358.4,"y2":358.2,"v":3},{"x":1.32,"x2":1.321,"y":358.2,"y2":358,"v":1.35},{"x":1.32,"x2":1.321,"y":358,"y2":357.8,"v":0.6},{"x":1.32,"x2":1.321,"y":357.8,"y2":357.6,"v":0.25},
{"x":1.321,"x2":1.322,"y":359,"y2":358.8,"v":0.12},{"x":1.321,"x2":1.322,"y":358.8,"y2":358.6,"v":0.2},{"x":1.321,"x2":1.322,"y":358.6,"y2":358.4,"v":0.4},{"x":1.321,"x2":1.322,"y":358.4,"y2":358.2,"v":1.2},{"x":1.321,"x2":1.322,"y":358.2,"y2":358,"v":2.8},{"x":1.321,"x2":1.322,"y":358,"y2":357.8,"v":1.05},{"x":1.321,"x2":1.322,"y":357.8,"y2":357.6,"v":0.35},{"x":1.321,"x2":1.322,"y":357.6,"y2":357.4,"v":0.15},
{"x":1.322,"x2":1.323,"y":358.8,"y2":358.6,"v":0.12},{"x":1.322,"x2":1.323,"y":358.6,"y2":358.4,"v":0.2},{"x":1.322,"x2":1.323,"y":358.4,"y2":358.2,"v":0.45},{"x":1.322,"x2":1.323,"y":358.2,"y2":358,"v":1.4},{"x":1.322,"x2":1.323,"y":358,"y2":357.8,"v":2.45},{"x":1.322,"x2":1.323,"y":357.8,"y2":357.6,"v":0.85},{"x":1.322,"x2":1.323,"y":357.6,"y2":357.4,"v":0.3},{"x":1.322,"x2":1.323,"y":357.4,"y2":357.2,"v":0.12},
{"x":1.323,"x2":1.324,"y":358.8,"y2":358.6,"v":0.1},{"x":1.323,"x2":1.324,"y":358.6,"y2":358.4,"v":0.2},{"x":1.323,"x2":1.324,"y":358.4,"y2":358.2,"v":0.4},{"x":1.323,"x2":1.324,"y":358.2,"y2":358,"v":0.85},{"x":1.323,"x2":1.324,"y":358,"y2":357.8,"v":1.95},{"x":1.323,"x2":1.324,"y":357.8,"y2":357.6,"v":1.85},{"x":1.323,"x2":1.324,"y":357.6,"y2":357.4,"v":0.85},{"x":1.323,"x2":1.324,"y":357.4,"y2":357.2,"v":0.3},
{"x":1.324,"x2":1.325,"y":358.6,"y2":358.4,"v":0.12},{"x":1.324,"x2":1.325,"y":358.4,"y2":358.2,"v":0.2},{"x":1.324,"x2":1.325,"y":358.2,"y2":358,"v":0.45},{"x":1.324,"x2":1.325,"y":358,"y2":357.8,"v":0.9},{"x":1.324,"x2":1.325,"y":357.8,"y2":357.6,"v":3.05},{"x":1.324,"x2":1.325,"y":357.6,"y2":357.4,"v":1.15},{"x":1.324,"x2":1.325,"y":357.4,"y2":357.2,"v":0.45},{"x":1.324,"x2":1.325,"y":357.2,"y2":357,"v":0.2},
{"x":1.325,"x2":1.326,"y":358.4,"y2":358.2,"v":0.1},{"x":1.325,"x2":1.326,"y":358.2,"y2":358,"v":0.2},{"x":1.325,"x2":1.326,"y":358,"y2":357.8,"v":0.35},{"x":1.325,"x2":1.326,"y":357.8,"y2":357.6,"v":1.1},{"x":1.325,"x2":1.326,"y":357.6,"y2":357.4,"v":2.85},{"x":1.325,"x2":1.326,"y":357.4,"y2":357.2,"v":0.65},{"x":1.325,"x2":1.326,"y":357.2,"y2":357,"v":0.35},{"x":1.325,"x2":1.326,"y":357,"y2":356.8,"v":0.2},
{"x":1.326,"x2":1.327,"y":358.2,"y2":358,"v":0.1},{"x":1.326,"x2":1.327,"y":358,"y2":357.8,"v":0.2},{"x":1.326,"x2":1.327,"y":357.8,"y2":357.6,"v":0.4},{"x":1.326,"x2":1.327,"y":357.6,"y2":357.4,"v":1.4},{"x":1.326,"x2":1.327,"y":357.4,"y2":357.2,"v":1.75},{"x":1.326,"x2":1.327,"y":357.2,"y2":357,"v":0.7},{"x":1.326,"x2":1.327,"y":357,"y2":356.8,"v":0.3},{"x":1.326,"x2":1.327,"y":356.8,"y2":356.6,"v":0.15},
{"x":1.327,"x2":1.328,"y":358.2,"y2":358,"v":0.08},{"x":1.327,"x2":1.328,"y":358,"y2":357.8,"v":0.12},{"x":1.327,"x2":1.328,"y":357.8,"y2":357.6,"v":0.25},{"x":1.327,"x2":1.328,"y":357.6,"y2":357.4,"v":0.6},{"x":1.327,"x2":1.328,"y":357.4,"y2":357.2,"v":1.95},{"x":1.327,"x2":1.328,"y":357.2,"y2":357,"v":1.55},{"x":1.327,"x2":1.328,"y":357,"y2":356.8,"v":0.9},{"x":1.327,"x2":1.328,"y":356.8,"y2":356.6,"v":0.25},
{"x":1.328,"x2":1.329,"y":358,"y2":357.8,"v":0.08},{"x":1.328,"x2":1.329,"y":357.8,"y2":357.6,"v":0.12},{"x":1.328,"x2":1.329,"y":357.6,"y2":357.4,"v":0.25},{"x":1.328,"x2":1.329,"y":357.4,"y2":357.2,"v":0.9},{"x":1.328,"x2":1.329,"y":357.2,"y2":357,"v":2.8},{"x":1.328,"x2":1.329,"y":357,"y2":356.8,"v":1.35},{"x":1.328,"x2":1.329,"y":356.8,"y2":356.6,"v":0.45},{"x":1.328,"x2":1.329,"y":356.6,"y2":356.4,"v":0.2},
{"x":1.329,"x2":1.33,"y":357.8,"y2":357.6,"v":0.08},{"x":1.329,"x2":1.33,"y":357.6,"y2":357.4,"v":0.12},{"x":1.329,"x2":1.33,"y":357.4,"y2":357.2,"v":0.3},{"x":1.329,"x2":1.33,"y":357.2,"y2":357,"v":1.15},{"x":1.329,"x2":1.33,"y":357,"y2":356.8,"v":3.1},{"x":1.329,"x2":1.33,"y":356.8,"y2":356.6,"v":0.65},{"x":1.329,"x2":1.33,"y":356.6,"y2":356.4,"v":0.3},{"x":1.329,"x2":1.33,"y":356.4,"y2":356.2,"v":0.15}
]},
"mark":{"type":"rect","strokeWidth":0},
"encoding":{
"x":{"field":"x","type":"quantitative","scale":{"domain":[1.3,1.33],"nice":false,"zero":false},
"axis":{"title":"SIR","values":[1.3,1.305,1.31,1.315,1.32,1.325,1.33],"format":".4~f","grid":false,"ticks":false,"domain":true,"domainColor":"#26266e","domainWidth":1.5,"labelFont":"Liberation Serif","labelFontSize":51,"labelColor":"#222222","labelPadding":20,"labelFlush":false,"labelOverlap":false,"titleFont":"Liberation Serif","titleFontSize":56,"titleFontWeight":"normal","titleColor":"#222222","titlePadding":11}},
"x2":{"field":"x2"},
"y":{"field":"y","type":"quantitative","scale":{"domain":[340,370],"nice":false,"zero":false},
"axis":{"title":"Frequency (THz)","values":[340,345,350,355,360,365,370],"grid":false,"ticks":false,"domain":true,"domainColor":"#26266e","domainWidth":1.5,"labelFont":"Liberation Serif","labelFontSize":52,"labelColor":"#222222","labelPadding":13,"labelOffset":1,"labelFlush":false,"labelOverlap":false,"titleFont":"Liberation Serif","titleFontSize":56,"titleFontWeight":"normal","titleColor":"#222222","titlePadding":8}},
"y2":{"field":"y2"},
"color":{"field":"v","type":"quantitative",
"scale":{"domain":[0,0.33,0.5,0.81,1,1.3,1.5,1.79,2,2.28,2.5,2.77,3,3.256],"range":["#3E26A8","#4643E2","#4557F0","#2E7FF2","#1E90E8","#10A8D8","#10B6C0","#26C29A","#48C87A","#9CC24C","#D6BA32","#FDBB2C","#F2D81C","#F9FB15"]},
"legend":{"title":null,"orient":"none","legendX":1419,"legendY":-1,"type":"gradient","direction":"vertical","gradientLength":1027,"gradientThickness":36,"gradientStrokeColor":"#1c2240","gradientStrokeWidth":1,"values":[0.5,1,1.5,2,2.5,3],"format":"~g","labelFont":"Liberation Serif","labelFontSize":48,"labelColor":"#222222","labelOffset":15,"labelOverlap":false,"encode":{"labels":{"update":{"dy":{"value":4}}}}}}
}
}
